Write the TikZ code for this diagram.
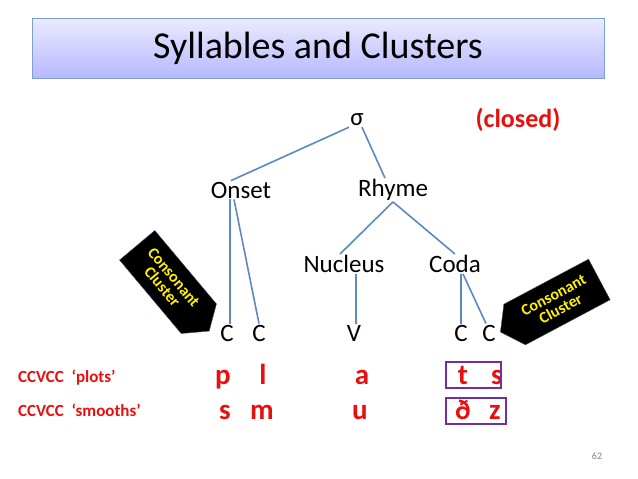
\documentclass[tikz,border=0pt]{standalone}
\usepackage{fontspec}
\setmainfont{Carlito}
\usetikzlibrary{shapes.symbols}
\definecolor{lnk}{HTML}{5B8AC0}
\definecolor{rd}{HTML}{E8100E}
\definecolor{pur}{HTML}{7030A0}
\begin{document}
\begin{tikzpicture}[x=1pt,y=-1pt,
  lbl/.style={font=\fontsize{25}{27}\selectfont,inner sep=1pt},
  seg/.style={font=\fontsize{29}{30}\selectfont\bfseries,text=rd,inner sep=0pt,anchor=base},
  row/.style={font=\fontsize{17}{19}\selectfont\bfseries,text=rd,anchor=base west,inner sep=0pt},
  edge/.style={draw=lnk,line width=1.6pt},
  cluster/.style={signal,fill=black,draw=lnk!60!black,text=yellow,font=\fontsize{16}{15}\selectfont\bfseries,align=center,minimum width=112pt,minimum height=46pt,inner sep=1pt,signal pointer angle=110},
  box/.style={draw=pur,line width=1.8pt}]
\useasboundingbox (0,0) rectangle (638,479);
\fill[white] (0,0) rectangle (638,479);
\node[draw=lnk!80,line width=0.8pt,top color=blue!8,bottom color=blue!28,minimum width=572pt,minimum height=60pt,font=\fontsize{38}{40}\selectfont] (title) at (318,48) {Syllables and Clusters};
\node[lbl] (sig) at (357,120) {σ};
\node[font=\fontsize{26}{28}\selectfont\bfseries,text=rd] (closed) at (518,120) {(closed)};
\node[lbl] (onset) at (241,190) {Onset};
\node[lbl] (rhyme) at (393,190) {Rhyme};
\node[lbl] (nuc) at (344,264) {Nucleus};
\node[lbl] (coda) at (455,264) {Coda};
\node[lbl] (c1) at (227,333) {C};
\node[lbl] (c2) at (259,333) {C};
\node[lbl] (v) at (354,333) {V};
\node[lbl] (c3) at (461,333) {C};
\node[lbl] (c4) at (489,333) {C};
\draw[edge] ([xshift=-8pt]sig.south) -- ([xshift=-10pt]onset.north);
\draw[edge] ([xshift=5pt]sig.south) -- ([xshift=-8pt]rhyme.north);
\draw[edge] ([xshift=-11pt]onset.south) -- ([xshift=3pt]c1.north);
\draw[edge] ([xshift=-7pt]onset.south) -- (c2.north);
\draw[edge] (rhyme.south) -- ([xshift=-4pt]nuc.north);
\draw[edge] (rhyme.south) -- (coda.north);
\draw[edge] ([xshift=12pt]nuc.south) -- ([xshift=2pt]v.north);
\draw[edge] ([xshift=6pt]coda.south) -- (c3.north);
\draw[edge] ([xshift=8pt]coda.south) -- ([xshift=-3pt]c4.north);
\node[seg] (p) at (223,384) {p};
\node[seg] (l) at (263,384) {l};
\node[seg] (a) at (362,384) {a};
\node[seg] (t) at (463,384) {t};
\node[seg] (s1) at (497,384) {s};
\node[seg] (s2) at (225,419) {s};
\node[seg] (m) at (262,419) {m};
\node[seg] (u) at (360,419) {u};
\node[seg] (dh) at (463,419) {ð};
\node[seg] (z) at (495,419) {z};
\node[row] (r1) at (18,382) {CCVCC\ \ ‘plots’};
\node[row] (r2) at (18,416) {CCVCC\ \ ‘smooths’};
\draw[box] (446,362) rectangle (501,388);
\draw[box] (446,398) rectangle (506,424);
\node[cluster,signal to=east,rotate=-50] (cl1) at (168,282) {Consonant\\Cluster};
\node[cluster,signal to=west,rotate=28] (cl2) at (557,302) {Consonant\\Cluster};
\node[font=\fontsize{10}{11}\selectfont,text=gray] (pg) at (597,456) {62};
\end{tikzpicture}
\end{document}
